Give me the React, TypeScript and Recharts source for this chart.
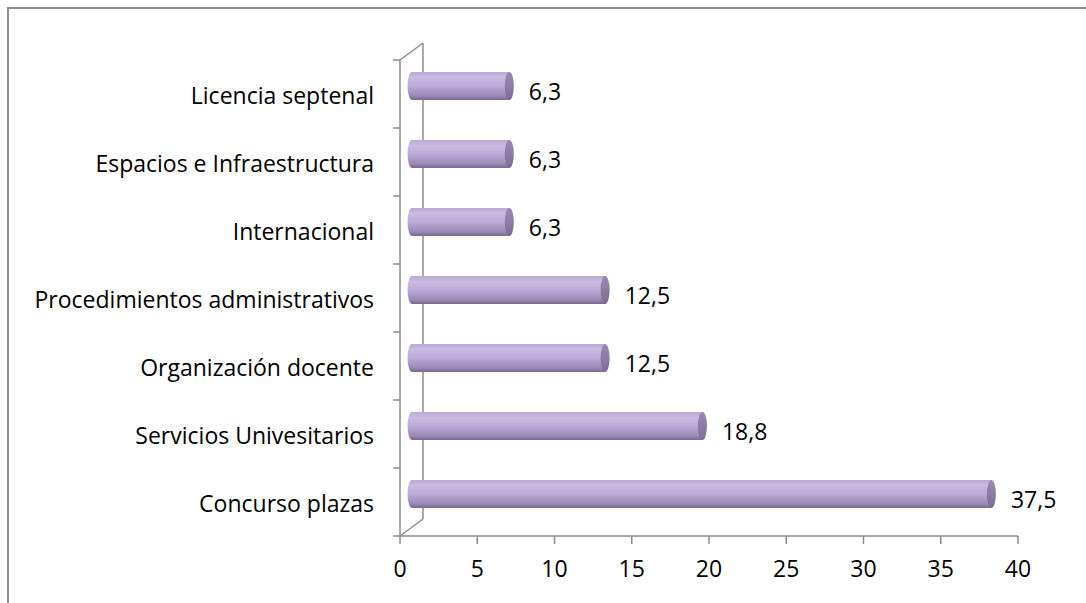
import React from 'react'
import { BarChart, Bar, XAxis, YAxis, LabelList } from 'recharts'

const categories = [
  'Licencia septenal',
  'Espacios e Infraestructura',
  'Internacional',
  'Procedimientos administrativos',
  'Organización docente',
  'Servicios Univesitarios',
  'Concurso plazas',
]
const values = [6.3, 6.3, 6.3, 12.5, 12.5, 18.8, 37.5]
const xTicks = [0, 5, 10, 15, 20, 25, 30, 35, 40]

const data = categories.map((name, i) => ({ name, value: values[i] }))

const W = 1086
const H = 603
const LEFT = 400
const RIGHT = 68
const TOP = 60
const XAXIS_H = 67
const PLOT_H = H - TOP - XAXIS_H
const HALF_BAND = PLOT_H / categories.length / 2

// 3D depth offset of the bars (half of the wall offset)
const DX = 12
const DY = -8
const RX = 4.5

const FONT = '"Open Sans", sans-serif'
const FS = 23
const AXIS = '#8c8c8c'

function Cylinder(props: any) {
  const { x, y, width, height } = props
  const x0 = x + DX
  const x1 = x + width + DX
  const y0 = y + DY
  const h = height
  return (
    <g>
      <path
        d={`M${x1},${y0} L${x0},${y0} A${RX},${h / 2} 0 0 0 ${x0},${y0 + h} L${x1},${y0 + h} Z`}
        fill="url(#cylBody)"
      />
      <ellipse cx={x1} cy={y0 + h / 2} rx={RX} ry={h / 2} fill="url(#cylCap)" />
    </g>
  )
}

function ValueLabel(props: any) {
  const { x, y, width, height, value } = props
  return (
    <text
      x={x + width + DX + RX + 15}
      y={y + height / 2 - 3}
      dominantBaseline="central"
      fontSize={FS}
      fontFamily={FONT}
      fill="#000"
    >
      {String(value).replace('.', ',')}
    </text>
  )
}

function CatTick(props: any) {
  const { y, payload, index } = props
  const last = index === categories.length - 1
  return (
    <g>
      <text
        x={LEFT - 26}
        y={y + 1}
        textAnchor="end"
        dominantBaseline="central"
        fontSize={FS}
        fontFamily={FONT}
        fill="#000"
      >
        {payload.value}
      </text>
      <line x1={LEFT - 7} x2={LEFT} y1={y - HALF_BAND} y2={y - HALF_BAND} stroke={AXIS} strokeWidth={1.5} />
      {last && (
        <line x1={LEFT - 7} x2={LEFT} y1={y + HALF_BAND} y2={y + HALF_BAND} stroke={AXIS} strokeWidth={1.5} />
      )}
    </g>
  )
}

export default function App() {
  const wx = 23
  const wy = 17
  return (
    <div style={{ position: 'absolute', left: 0, top: 0, width: W, height: H, background: '#fff' }}>
      <div
        style={{
          position: 'absolute',
          left: 7,
          top: 7,
          width: W,
          height: H,
          borderLeft: '2px solid #8e8e8e',
          borderTop: '2px solid #8e8e8e',
        }}
      />
      <svg width={W} height={H} style={{ position: 'absolute', left: 0, top: 0 }}>
        <line x1={LEFT} y1={TOP} x2={LEFT + wx} y2={TOP - wy} stroke={AXIS} strokeWidth={1.5} />
        <line x1={LEFT} y1={TOP + PLOT_H} x2={LEFT + wx} y2={TOP + PLOT_H - wy} stroke={AXIS} strokeWidth={1.5} />
        <line x1={LEFT + wx} y1={TOP - wy} x2={LEFT + wx} y2={TOP + PLOT_H - wy} stroke={AXIS} strokeWidth={1.5} />
      </svg>
      <div style={{ position: 'absolute', left: 0, top: 0 }}>
        <BarChart
          width={W}
          height={H}
          data={data}
          layout="vertical"
          margin={{ top: TOP, right: RIGHT, bottom: 0, left: 0 }}
          barCategoryGap={0}
        >
          <defs>
            <linearGradient id="cylBody" x1="0" y1="0" x2="0" y2="1">
              <stop offset="0" stopColor="#b9a9d3" />
              <stop offset="0.2" stopColor="#cbbce3" />
              <stop offset="0.5" stopColor="#baa8d6" />
              <stop offset="0.85" stopColor="#9a8ab6" />
              <stop offset="1" stopColor="#76688f" />
            </linearGradient>
            <linearGradient id="cylCap" x1="0" y1="0" x2="0" y2="1">
              <stop offset="0" stopColor="#9a8bb3" />
              <stop offset="1" stopColor="#7a6c93" />
            </linearGradient>
          </defs>
          <XAxis
            type="number"
            domain={[0, 40]}
            ticks={xTicks}
            interval={0}
            height={XAXIS_H}
            stroke={AXIS}
            axisLine={{ stroke: AXIS, strokeWidth: 1.5 }}
            tickLine={{ stroke: AXIS, strokeWidth: 1.5 }}
            tickSize={8}
            tickMargin={17}
            tick={{ fill: '#000', fontSize: FS, fontFamily: FONT }}
          />
          <YAxis
            type="category"
            dataKey="name"
            width={LEFT}
            axisLine={{ stroke: AXIS, strokeWidth: 1.5 }}
            tickLine={false}
            interval={0}
            tick={<CatTick />}
          />
          <Bar dataKey="value" barSize={28} shape={<Cylinder />} isAnimationActive={false}>
            <LabelList dataKey="value" content={<ValueLabel />} />
          </Bar>
        </BarChart>
      </div>
    </div>
  )
}
